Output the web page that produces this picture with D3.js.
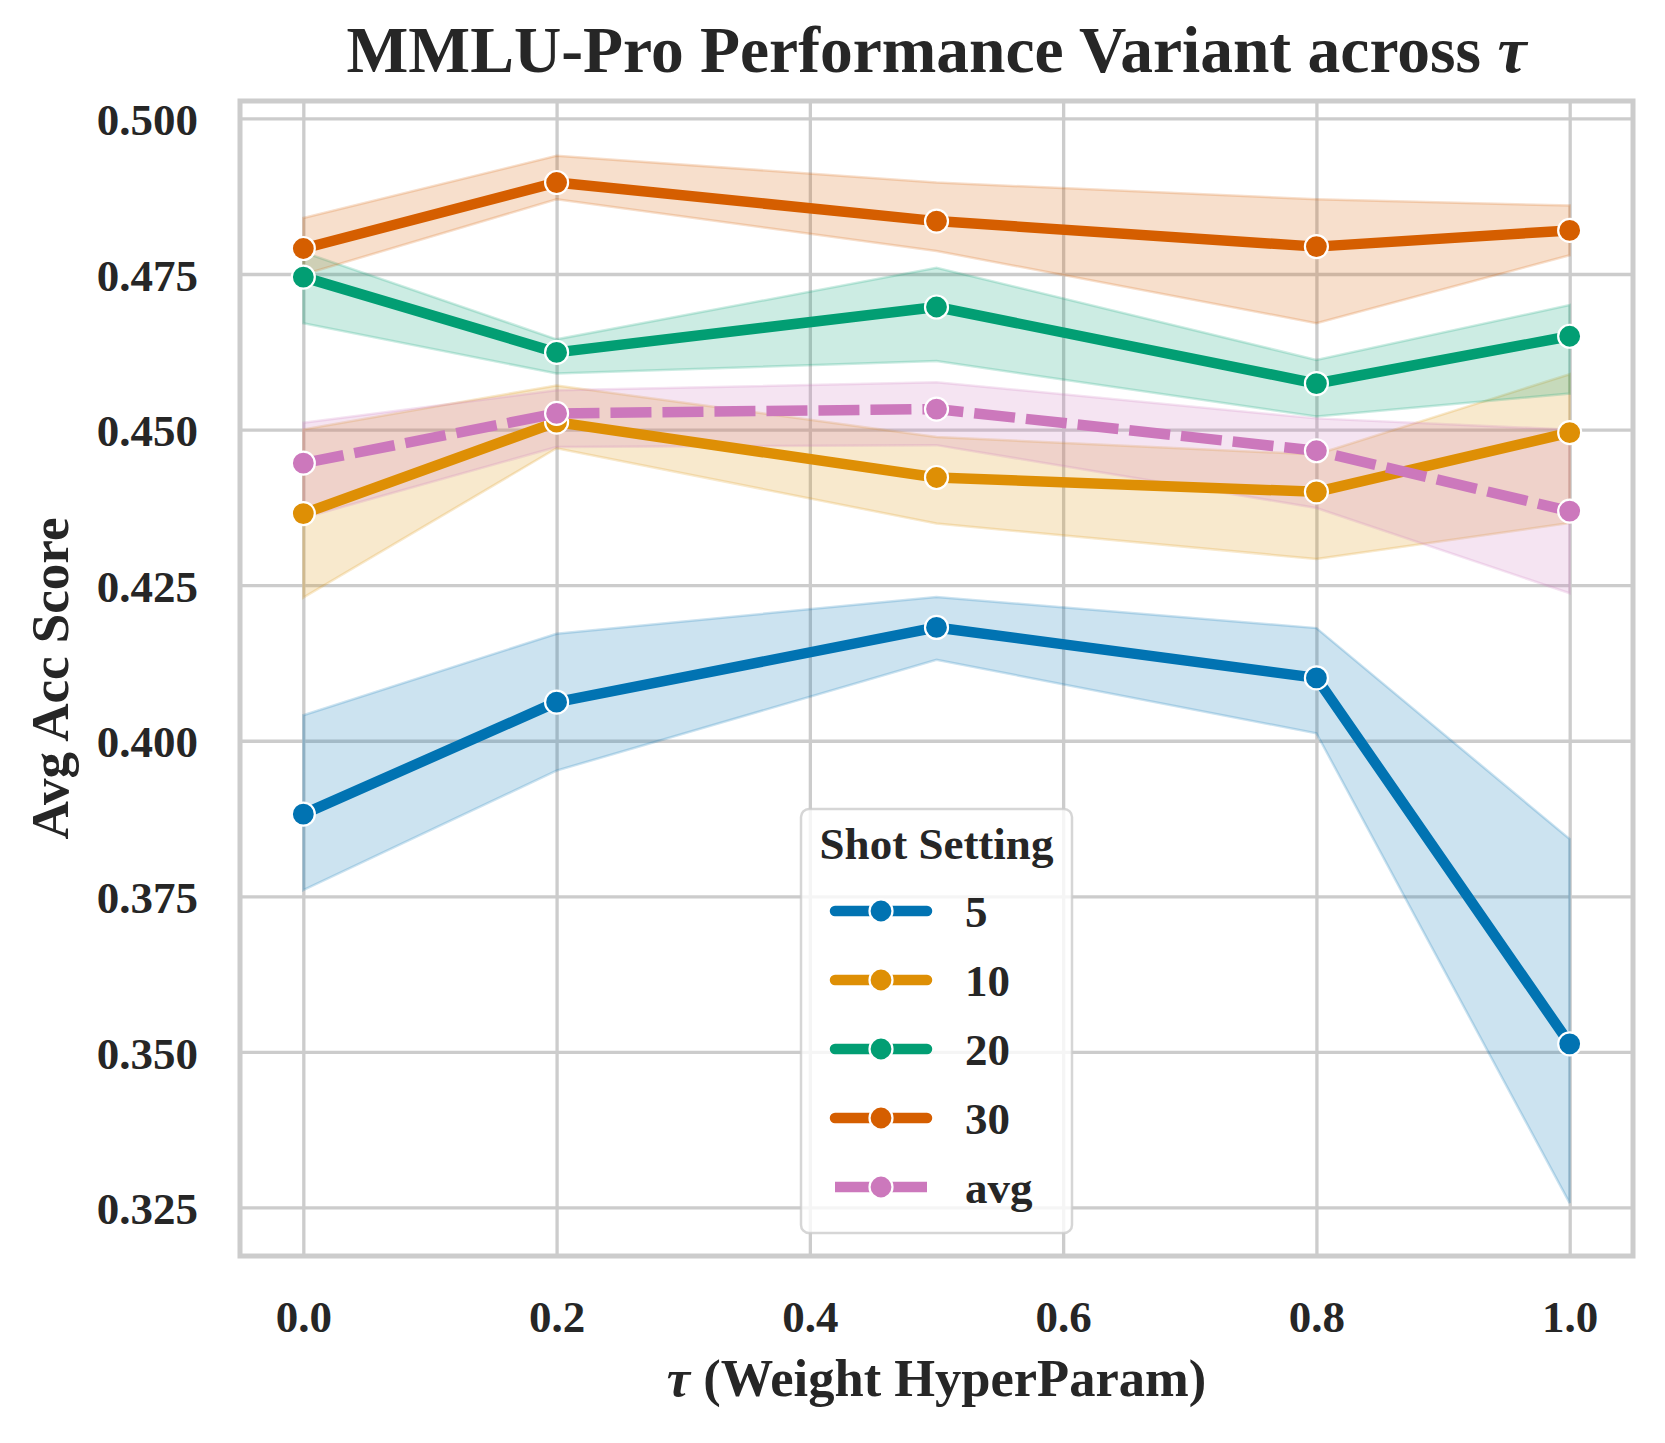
<!DOCTYPE html>
<html>
<head>
<meta charset="utf-8">
<script src="https://cdn.jsdelivr.net/npm/d3@7/dist/d3.min.js"></script>
<style>
  body { margin: 0; background: #fff; }
  svg text { font-family: 'Liberation Serif', 'DejaVu Serif', serif; font-weight: bold; fill: #262626; }
</style>
</head>
<body>
<div id="chart"></div>
<script>
// tau values on the x axis
var tauValues = [0, 0.2, 0.5, 0.8, 1.0];

// mean and confidence band per shot setting
var shot5Mean = [0.3882, 0.4062, 0.4182, 0.4101, 0.3513];
var shot5Lo   = [0.3760, 0.3952, 0.4130, 0.4012, 0.3257];
var shot5Hi   = [0.4041, 0.4172, 0.4231, 0.4181, 0.3842];

var shot10Mean = [0.4365, 0.4512, 0.4423, 0.4400, 0.4495];
var shot10Lo   = [0.4230, 0.4470, 0.4349, 0.4292, 0.4350];
var shot10Hi   = [0.4500, 0.4571, 0.4488, 0.4460, 0.4589];

var shot20Mean = [0.4745, 0.4624, 0.4697, 0.4574, 0.4650];
var shot20Lo   = [0.4671, 0.4590, 0.4610, 0.4521, 0.4558];
var shot20Hi   = [0.4785, 0.4645, 0.4760, 0.4612, 0.4700];

var shot30Mean = [0.4791, 0.4897, 0.4835, 0.4794, 0.4820];
var shot30Lo   = [0.4749, 0.4870, 0.4787, 0.4671, 0.4780];
var shot30Hi   = [0.4840, 0.4940, 0.4897, 0.4870, 0.4860];

var avgMean = [0.4446, 0.4526, 0.4533, 0.4466, 0.4369];
var avgLo   = [0.4358, 0.4472, 0.4475, 0.4374, 0.4237];
var avgHi   = [0.4511, 0.4563, 0.4576, 0.4518, 0.4500];

var seriesNames = ['5', '10', '20', '30', 'avg'];
var seriesColors = ['#0173b2', '#de8f05', '#029e73', '#d55e00', '#cc78bc'];

var xTicks = [0, 0.2, 0.4, 0.6, 0.8, 1.0];
var yTicks = [0.325, 0.350, 0.375, 0.400, 0.425, 0.450, 0.475, 0.500];

var series = [
  { name: seriesNames[0], color: seriesColors[0], mean: shot5Mean, lo: shot5Lo, hi: shot5Hi, dashed: false },
  { name: seriesNames[1], color: seriesColors[1], mean: shot10Mean, lo: shot10Lo, hi: shot10Hi, dashed: false },
  { name: seriesNames[2], color: seriesColors[2], mean: shot20Mean, lo: shot20Lo, hi: shot20Hi, dashed: false },
  { name: seriesNames[3], color: seriesColors[3], mean: shot30Mean, lo: shot30Lo, hi: shot30Hi, dashed: false },
  { name: seriesNames[4], color: seriesColors[4], mean: avgMean, lo: avgLo, hi: avgHi, dashed: true }
];

var width = 1665;
var height = 1443;
var margin = { top: 101, right: 32, bottom: 187, left: 240 };
var innerW = width - margin.left - margin.right;
var innerH = height - margin.top - margin.bottom;

var lineW = 10.5;
var markerR = 11.5;

var x = d3.scaleLinear().domain([-0.05, 1.05]).range([0, innerW]);
var y = d3.scaleLinear().domain([0.3172, 0.5028]).range([innerH, 0]);

var svg = d3.select('#chart').append('svg')
  .attr('width', width)
  .attr('height', height);

svg.append('rect').attr('width', width).attr('height', height).attr('fill', '#fff');

var g = svg.append('g').attr('transform', 'translate(' + margin.left + ',' + margin.top + ')');

// grid + tick labels
var yAxis = g.append('g')
  .call(d3.axisLeft(y).tickValues(yTicks).tickFormat(d3.format('.3f'))
    .tickSizeInner(-innerW).tickSizeOuter(0).tickPadding(42));
var xAxis = g.append('g')
  .attr('transform', 'translate(0,' + innerH + ')')
  .call(d3.axisBottom(x).tickValues(xTicks).tickFormat(d3.format('.1f'))
    .tickSizeInner(-innerH).tickSizeOuter(0).tickPadding(44));

[yAxis, xAxis].forEach(function (ax) {
  ax.select('.domain').remove();
  ax.selectAll('.tick line').attr('stroke', '#cccccc').attr('stroke-width', 3.3);
  ax.selectAll('.tick text').attr('font-size', '45px').attr('fill', '#262626');
});
yAxis.selectAll('.tick text').attr('dy', '0.36em');

// bands
var area = d3.area()
  .x(function (d) { return x(d.t); })
  .y0(function (d) { return y(d.lo); })
  .y1(function (d) { return y(d.hi); });

var line = d3.line()
  .x(function (d) { return x(d.t); })
  .y(function (d) { return y(d.v); });

function bandData(s) {
  return tauValues.map(function (t, i) { return { t: t, lo: s.lo[i], hi: s.hi[i] }; });
}
function lineData(s) {
  return tauValues.map(function (t, i) { return { t: t, v: s.mean[i] }; });
}

var bands = g.append('g');
series.forEach(function (s) {
  bands.append('path')
    .datum(bandData(s))
    .attr('d', area)
    .attr('fill', s.color)
    .attr('fill-opacity', 0.2)
    .attr('stroke', s.color)
    .attr('stroke-opacity', 0.2)
    .attr('stroke-width', 2.5);
});

var lines = g.append('g');
series.forEach(function (s) {
  var sg = lines.append('g');
  sg.append('path')
    .datum(lineData(s))
    .attr('d', line)
    .attr('fill', 'none')
    .attr('stroke', s.color)
    .attr('stroke-width', lineW)
    .attr('stroke-linejoin', 'round')
    .attr('stroke-linecap', s.dashed ? 'butt' : 'round')
    .attr('stroke-dasharray', s.dashed ? '41,11' : null);
  sg.selectAll('circle')
    .data(lineData(s)).enter().append('circle')
    .attr('cx', function (d) { return x(d.t); })
    .attr('cy', function (d) { return y(d.v); })
    .attr('r', markerR)
    .attr('fill', s.color)
    .attr('stroke', '#fff')
    .attr('stroke-width', 2.2);
});

// frame
g.append('rect')
  .attr('width', innerW).attr('height', innerH)
  .attr('fill', 'none')
  .attr('stroke', '#cccccc')
  .attr('stroke-width', 5);

// title and axis labels
var title = svg.append('text')
  .attr('x', margin.left + innerW / 2)
  .attr('y', 72)
  .attr('text-anchor', 'middle')
  .attr('font-size', '65.5px');
title.append('tspan').text('MMLU-Pro Performance Variant across ');
title.append('tspan').attr('font-style', 'italic').text('τ');

var xLabel = svg.append('text')
  .attr('x', margin.left + innerW / 2)
  .attr('y', 1396)
  .attr('text-anchor', 'middle')
  .attr('font-size', '52.5px');
xLabel.append('tspan').attr('font-style', 'italic').text('τ');
xLabel.append('tspan').text(' (Weight HyperParam)');

svg.append('text')
  .attr('transform', 'translate(68,' + (margin.top + innerH / 2) + ') rotate(-90)')
  .attr('text-anchor', 'middle')
  .attr('font-size', '53px')
  .text('Avg Acc Score');

// legend
var legW = 271, legH = 424;
var legend = svg.append('g')
  .attr('transform', 'translate(' + (margin.left + innerW / 2 - legW / 2) + ',' + (margin.top + innerH - 23 - legH) + ')');

legend.append('rect')
  .attr('width', legW).attr('height', legH)
  .attr('rx', 8).attr('ry', 8)
  .attr('fill', '#fff').attr('fill-opacity', 0.8)
  .attr('stroke', '#cccccc').attr('stroke-opacity', 0.8)
  .attr('stroke-width', 2.5);

legend.append('text')
  .attr('x', legW / 2).attr('y', 50)
  .attr('text-anchor', 'middle')
  .attr('font-size', '45px')
  .text('Shot Setting');

series.forEach(function (s, i) {
  var cy = 102 + i * 69;
  var row = legend.append('g').attr('transform', 'translate(0,' + cy + ')');
  row.append('line')
    .attr('x1', 34).attr('x2', 126)
    .attr('stroke', s.color)
    .attr('stroke-width', lineW)
    .attr('stroke-linecap', s.dashed ? 'butt' : 'round')
    .attr('stroke-dasharray', s.dashed ? '41,11' : null);
  row.append('circle')
    .attr('cx', 80).attr('r', markerR)
    .attr('fill', s.color)
    .attr('stroke', '#fff').attr('stroke-width', 2.2);
  row.append('text')
    .attr('x', 164).attr('y', 16)
    .attr('font-size', '45px')
    .text(s.name);
});
</script>
</body>
</html>
